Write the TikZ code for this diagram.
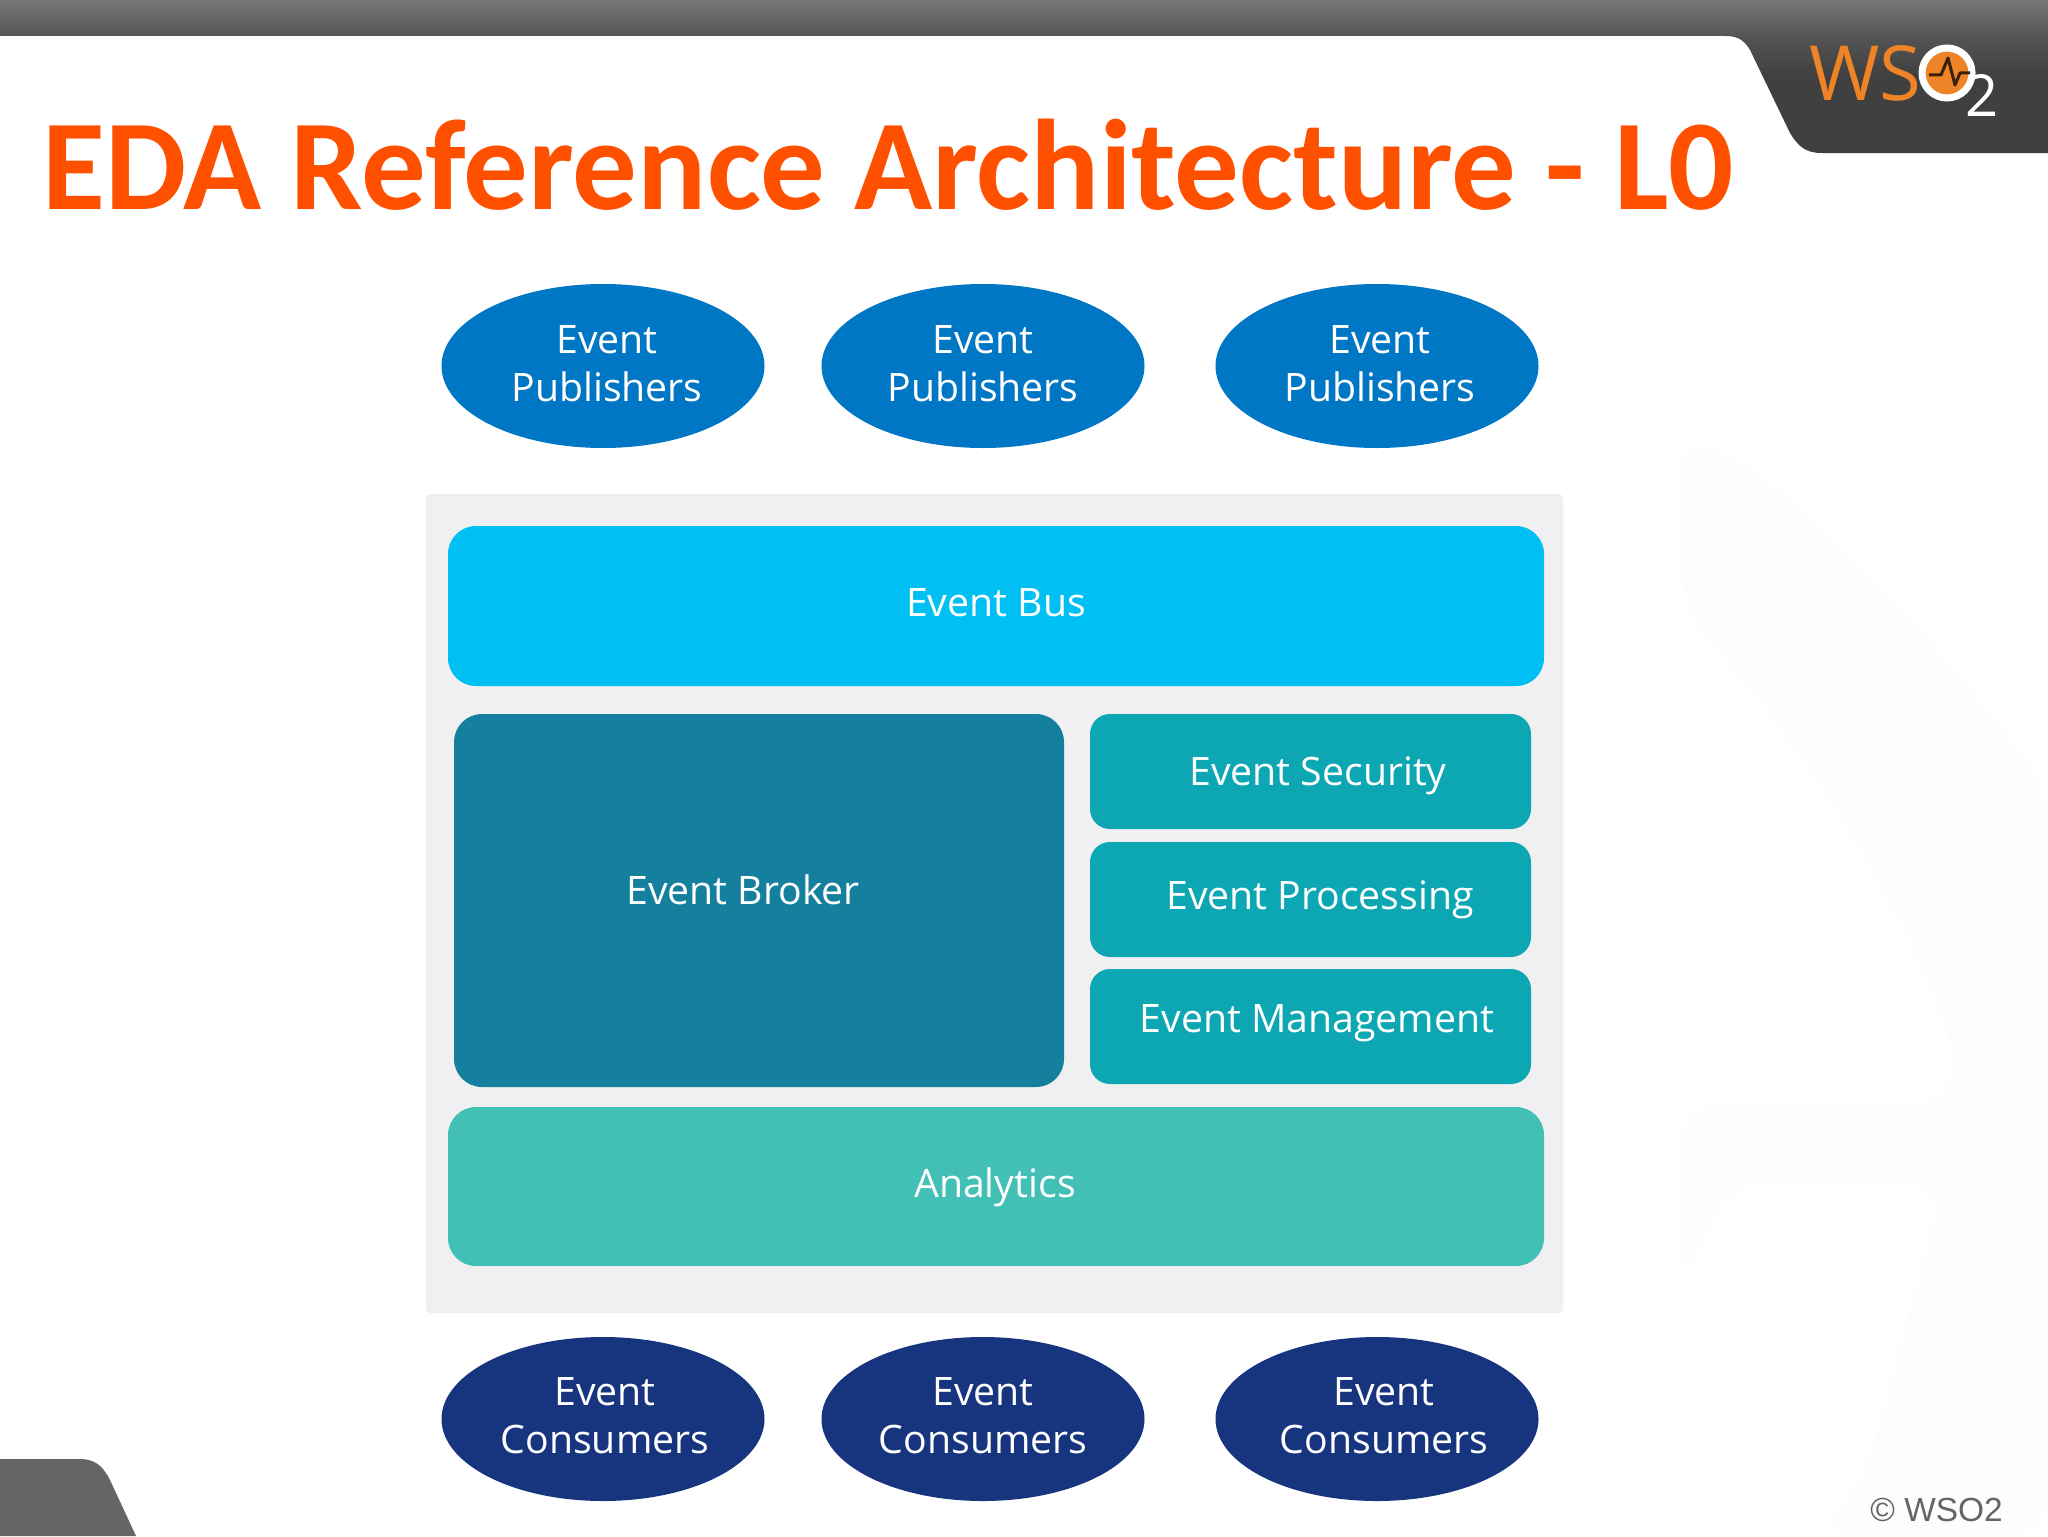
\documentclass[tikz,border=0pt]{standalone}
\usepackage{fontspec}
\setmainfont{Open Sans}
\newfontfamily\titlefont{Carlito}[BoldFont={Carlito Bold}]
\newfontfamily\copyfont{Liberation Sans}
\usetikzlibrary{shapes.geometric}
\definecolor{panelc}{HTML}{F0F0F2}
\definecolor{busc}{HTML}{00C0F3}
\definecolor{brokerc}{HTML}{15809E}
\definecolor{tealc}{HTML}{0DA6B3}
\definecolor{analc}{HTML}{43C0B6}
\definecolor{pubc}{HTML}{0077C4}
\definecolor{conc}{HTML}{17357F}
\definecolor{titlec}{HTML}{FF5000}
\definecolor{logoc}{HTML}{EE8427}
\definecolor{footc}{HTML}{666465}
\definecolor{markc}{HTML}{FDFCFE}
\pgfdeclareverticalshading{barshade}{100bp}{color(0bp)=(black!75!white); color(25bp)=(black!75!white); color(50bp)=(black!75!white); color(63bp)=(black!67!white); color(75bp)=(black!53!white); color(100bp)=(black!53!white)}
\tikzset{
  pad/.style={rectangle,inner sep=0pt,draw=none},
  busbox/.style={pad,rounded corners=14pt},
  smallbox/.style={pad,rounded corners=10pt,fill=tealc},
  oval/.style={ellipse,inner sep=0pt,draw=none,minimum width=161.5pt,minimum height=82pt},
  lbl/.style={text=white,font=\fontsize{19.6}{24}\selectfont,align=center,inner sep=0pt},
  lblb/.style={lbl,anchor=base}
}
\begin{document}
\begin{tikzpicture}[x=0.5pt,y=-0.5pt]
\useasboundingbox (0,0) rectangle (2048,1536);
\fill[white] (0,0) rectangle (2048,1536);
% faint watermark
\fill[markc,rounded corners=20pt] (1682,433) .. controls (1760,470) and (1869,554) .. (2048,790) -- (2048,1536) -- (1815,1536)
  -- (1864,1483) -- (1944,1183) -- (1727,1183) -- (1682,1290) -- (1682,1103) -- (1956,1103)
  .. controls (1950,1000) and (1835,777) .. (1682,612) -- cycle;
% header band
\shade[shading=barshade] (0,0) -- (2048,0) -- (2048,153) -- (1822,153)
  .. controls (1805,153) and (1798,146) .. (1790,133) -- (1750,50)
  .. controls (1743,38) and (1735,36) .. (1725,36) -- (0,36) -- cycle;
% footer corner
\fill[footc] (0,1459) -- (80,1459) .. controls (95,1459) and (103,1466) .. (110,1480) -- (136,1536) -- (0,1536) -- cycle;
% logo
\node[text=logoc,font=\fontsize{38}{40}\selectfont,inner sep=0pt,anchor=base west] (logows) at (1809,100) {WS};
\node[circle,fill=logoc,draw=white,line width=3.5pt,minimum size=25pt,inner sep=0pt] (logoo) at (1947,73) {};
\draw[black!75!logoc,line width=1.5pt,line join=round] (1929,75) -- (1941,75) -- (1948,58) -- (1955,85) -- (1960,73) -- (1970,73);
\node[text=white,font=\fontsize{29}{30}\selectfont,inner sep=0pt,anchor=base] (logotwo) at (1982,117) {2};
% title
\node[text=titlec,font=\titlefont\bfseries\fontsize{64.45}{70}\selectfont,inner sep=0pt,anchor=base west] (title) at (42,209) {EDA Reference Architecture - L0};
% panel
\node[pad,rounded corners=2pt,fill=panelc,minimum width=568.5pt,minimum height=409.5pt] (panel) at (994.5,903.5) {};
\node[busbox,fill=busc,minimum width=548pt,minimum height=80pt] (bus) at (996,606) {};
\node[busbox,fill=brokerc,minimum width=305pt,minimum height=186.5pt] (broker) at (759,900.5) {};
\node[smallbox,minimum width=220.5pt,minimum height=57.5pt] (security) at (1310.5,771.5) {};
\node[smallbox,minimum width=220.5pt,minimum height=57.5pt] (processing) at (1310.5,899.5) {};
\node[smallbox,minimum width=220.5pt,minimum height=57.5pt] (management) at (1310.5,1026.5) {};
\node[busbox,fill=analc,minimum width=548pt,minimum height=79.5pt] (analytics) at (996,1186.5) {};
\node[lblb] (busT) at (996,616) {Event Bus};
\node[lblb] (brokerT) at (743,904) {Event Broker};
\node[lblb] (securityT) at (1318,785) {Event Security};
\node[lblb] (processingT) at (1320,909) {Event Processing};
\node[lblb] (managementT) at (1317,1032) {Event Management};
\node[lblb] (analyticsT) at (995,1197) {Analytics};
% publishers
\node[oval,fill=pubc] (pubA) at (603,366) {};
\node[oval,fill=pubc] (pubB) at (983,366) {};
\node[oval,fill=pubc] (pubC) at (1377,366) {};
\node[lbl] (pubAT) at (607,363.5) {Event\\Publishers};
\node[lbl] (pubBT) at (983,363.5) {Event\\Publishers};
\node[lbl] (pubCT) at (1380,363.5) {Event\\Publishers};
% consumers
\node[oval,fill=conc] (conA) at (603,1419) {};
\node[oval,fill=conc] (conB) at (983,1419) {};
\node[oval,fill=conc] (conC) at (1377,1419) {};
\node[lbl] (conAT) at (605,1416) {Event\\Consumers};
\node[lbl] (conBT) at (983,1416) {Event\\Consumers};
\node[lbl] (conCT) at (1384,1416) {Event\\Consumers};
% copyright
\node[text=footc,font=\copyfont\fontsize{16.7}{18}\selectfont,inner sep=0pt,anchor=base east] (copyr) at (2003,1521) {© WSO2};
\end{tikzpicture}
\end{document}
